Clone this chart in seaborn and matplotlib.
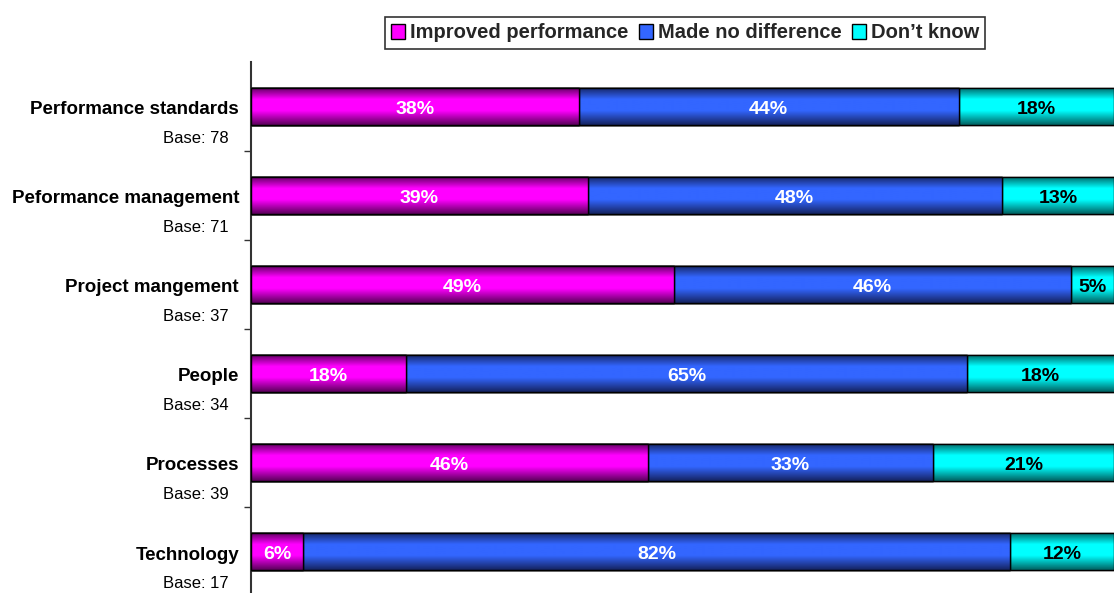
import numpy as np
import pandas as pd
import matplotlib
matplotlib.use("Agg")
import matplotlib.pyplot as plt
import matplotlib.transforms as mtransforms
from matplotlib.patches import Rectangle
from matplotlib.colors import LinearSegmentedColormap
import seaborn as sns

categories = ["Performance standards", "Peformance management", "Project mangement",
              "People", "Processes", "Technology"]
bases = [78, 71, 37, 34, 39, 17]
improved = [38, 39, 49, 18, 46, 6]
no_diff = [44, 48, 46, 65, 33, 82]
dont_know = [18, 13, 5, 18, 21, 12]
series_names = ["Improved performance", "Made no difference", "Don\u2019t know"]

sns.set_style("white")
plt.rcParams["font.family"] = ["Liberation Sans", "DejaVu Sans"]

colors_mid = ["#ff00ff", "#3366ff", "#00ffff"]
colors_dark = ["#5a005a", "#15235f", "#006060"]
text_colors = ["white", "white", "black"]

df = pd.DataFrame({"cat": categories, "imp": improved, "nd": no_diff, "dk": dont_know})
df["c1"] = df["imp"]
df["c2"] = df["imp"] + df["nd"]
df["c3"] = df["imp"] + df["nd"] + df["dk"]

W, H = 1114, 593
fig = plt.figure(figsize=(W / 100, H / 100), dpi=100)
ax_left, ax_right = 251, 1114
ax_top, ax_bottom = 62, 596
ax = fig.add_axes([ax_left / W, 1 - ax_bottom / H, (ax_right - ax_left) / W, (ax_bottom - ax_top) / H])

layers = [("c3", 2), ("c2", 1), ("c1", 0)]
for col, ci in layers:
    sns.barplot(data=df, x=col, y="cat", order=categories, orient="h", ax=ax,
                color=colors_mid[ci], width=0.42, edgecolor="black", linewidth=1.0,
                saturation=1)

ax.set_xlim(0, 100)
ax.set_ylim(5.5, -0.5)


def make_cmap(ci):
    return LinearSegmentedColormap.from_list(
        f"g{ci}", [(0.0, colors_dark[ci]), (0.32, colors_mid[ci]), (0.62, colors_mid[ci]),
                   (1.0, colors_dark[ci])])


grad = np.linspace(0, 1, 128).reshape(-1, 1)
patches = list(ax.patches)
n = len(categories)
for li, (col, ci) in enumerate(layers):
    cmap = make_cmap(ci)
    for p in patches[li * n:(li + 1) * n]:
        x0, y0 = p.get_x(), p.get_y()
        w, h = p.get_width(), p.get_height()
        base_z = 2 + li
        p.set_zorder(base_z)
        im = ax.imshow(grad, cmap=cmap, aspect="auto", extent=(x0, x0 + w, y0 + h, y0),
                       zorder=base_z + 0.1, interpolation="bilinear")
        im.set_clip_path(p)
        edge = Rectangle((x0, y0), w, h, fill=False, edgecolor="black", linewidth=1.0,
                         zorder=base_z + 0.2)
        ax.add_patch(edge)
ax.set_xlim(0, 100)
ax.set_ylim(5.5, -0.5)

# value labels
for i in range(n):
    starts = [0, improved[i], improved[i] + no_diff[i]]
    vals = [improved[i], no_diff[i], dont_know[i]]
    for k in range(3):
        cx = starts[k] + vals[k] / 2
        if starts[k] + vals[k] > 100:
            cx = starts[k] + (100 - starts[k]) / 2
        ax.text(cx, i + 0.03, f"{vals[k]}%", ha="center", va="center", color=text_colors[k],
                fontsize=14, fontweight="bold", zorder=10)

# category labels
trans = mtransforms.blended_transform_factory(ax.transAxes, ax.transData)
off1 = mtransforms.offset_copy(trans, fig=fig, x=-12 * 0.72, y=-3.5 * 0.72, units="points")
off2 = mtransforms.offset_copy(trans, fig=fig, x=-22 * 0.72, y=-2 * 0.72, units="points")
for i, (c, b) in enumerate(zip(categories, bases)):
    ax.text(0, i, c, transform=off1, ha="right", va="center", fontsize=13.5,
            fontweight="bold", color="black")
    ax.text(0, i + 0.34, f"Base: {b}", transform=off2, ha="right", va="center",
            fontsize=12, color="black")

ax.set_yticks([i + 0.5 for i in range(n)])
ax.set_yticklabels([])
ax.set_xticks([])
ax.set_xlabel("")
ax.set_ylabel("")
ax.tick_params(axis="y", direction="out", length=5, width=1, color="#333333", left=True)
for s in ["top", "right", "bottom"]:
    ax.spines[s].set_visible(False)
ax.spines["left"].set_color("#333333")
ax.spines["left"].set_linewidth(1.5)

handles = [Rectangle((0, 0), 1, 1, facecolor=colors_mid[k], edgecolor="black", linewidth=1)
           for k in range(3)]
leg = fig.legend(handles, series_names, loc="center", bbox_to_anchor=(685 / W, 1 - 33 / H),
                 ncol=3, frameon=True, fancybox=False, edgecolor="black",
                 prop={"weight": "bold", "size": 14.5}, handlelength=0.7, handleheight=0.7,
                 handletextpad=0.25, columnspacing=0.5, borderpad=0.3, borderaxespad=0)
leg.get_frame().set_linewidth(1.2)

fig.savefig("out.png", dpi=100)
